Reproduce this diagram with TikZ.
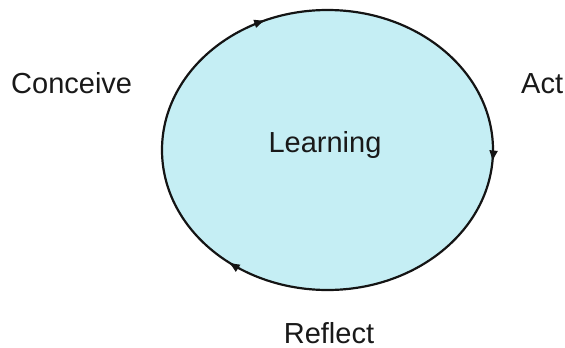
\documentclass[tikz,border=0pt]{standalone}
\usepackage{fontspec}
\setmainfont{Liberation Sans}
\usetikzlibrary{arrows.meta,decorations.markings}
\definecolor{cyclefill}{RGB}{197,238,244}
\definecolor{cycleline}{RGB}{20,20,20}
\tikzset{
  lbl/.style={font=\fontsize{29}{34}\selectfont, inner sep=0pt, text=black!90},
  learncycle/.style={draw=cycleline, line width=2.2pt, fill=cyclefill,
    postaction={decorate},
    decoration={markings,
      mark=at position 0.013 with {\arrow{Latex[length=12pt,width=9pt]}},
      mark=at position 0.359 with {\arrow{Latex[length=12pt,width=9pt]}},
      mark=at position 0.685 with {\arrow{Latex[length=12pt,width=9pt]}}}}
}
\begin{document}
\begin{tikzpicture}[x=1pt,y=-1pt]
\useasboundingbox (0,0) rectangle (565,348);
\coordinate (c) at (327.5,150);
\draw[learncycle] (c) ellipse [x radius=165.5, y radius=140];
\node[lbl, anchor=base] (learning) at (325,152) {Learning};
\node[lbl, anchor=base west] (conceive) at (11,93) {Conceive};
\node[lbl, anchor=base west] (act) at (521,93) {Act};
\node[lbl, anchor=base] (reflect) at (329,343) {Reflect};
\end{tikzpicture}
\end{document}
